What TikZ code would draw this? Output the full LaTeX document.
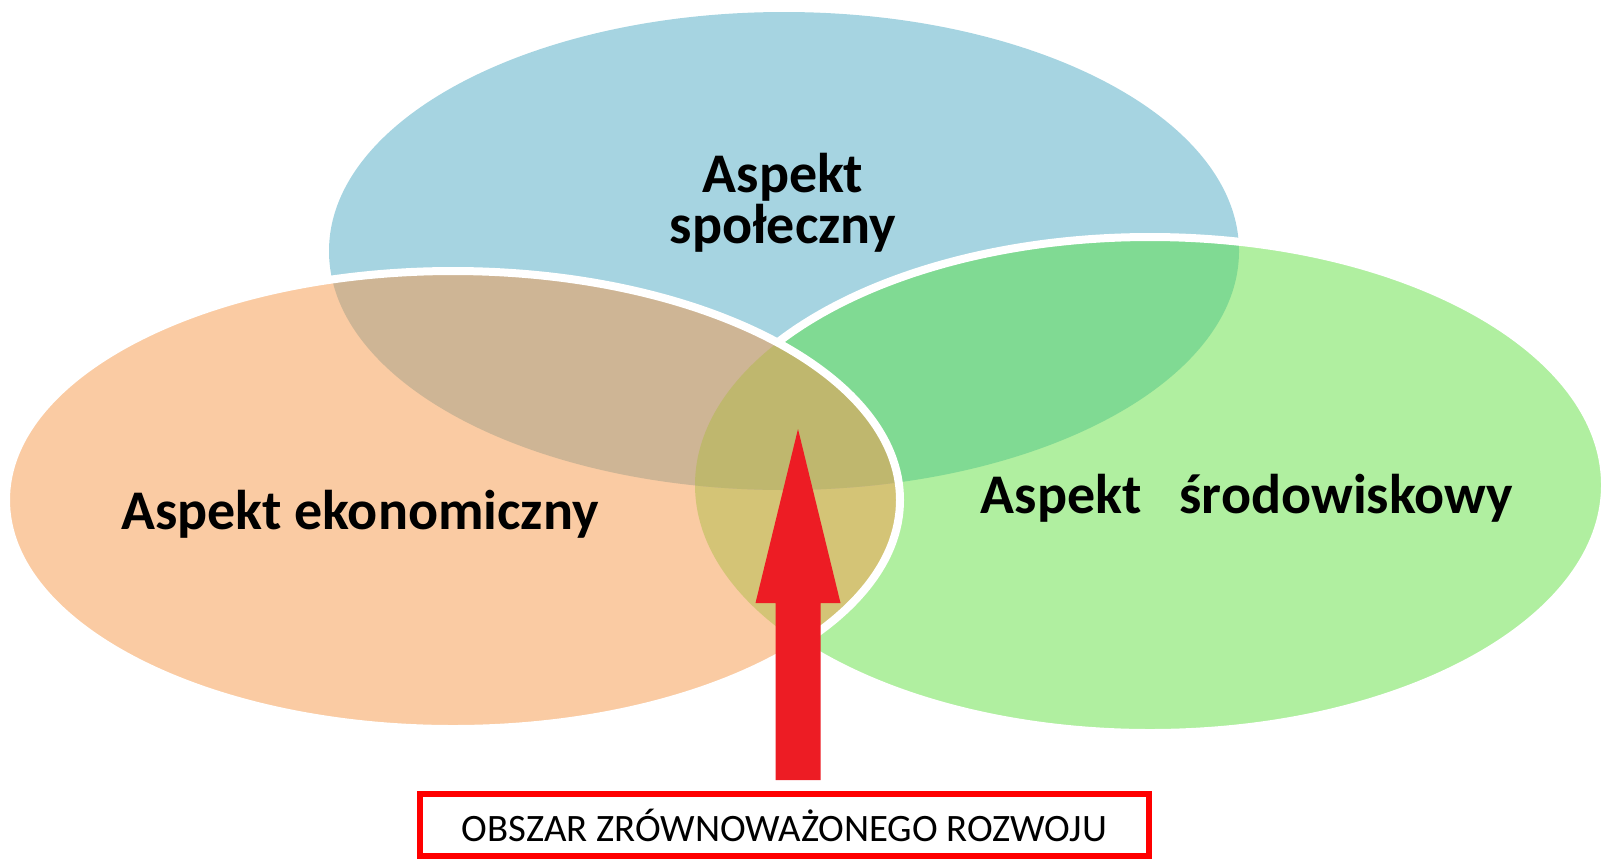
\documentclass[tikz,border=0pt]{standalone}
\usepackage{fontspec}
\setmainfont{Carlito}
\usetikzlibrary{positioning}
\definecolor{socblue}{HTML}{A6D4E1}
\definecolor{ekoorange}{HTML}{FACBA3}
\definecolor{envgreen}{HTML}{B0EFA0}
\definecolor{soceko}{HTML}{CEB595}
\definecolor{socenv}{HTML}{80DA93}
\definecolor{ekoenv}{HTML}{D4C476}
\definecolor{allthree}{HTML}{BFB76E}
\definecolor{arrowred}{HTML}{ED1C24}
\definecolor{boxred}{HTML}{FF0000}
% the three aspects
\newcommand{\socpath}{(784,251) ellipse [x radius=455, y radius=239]}
\newcommand{\ekopath}{(453,500) ellipse [x radius=447, y radius=229]}
\newcommand{\envpath}{(1150,485) ellipse [x radius=455, y radius=248]}

\begin{document}
\begin{tikzpicture}[
        x=0.5pt, y=-0.5pt,
        % styles
        aspect/.style={font=\bfseries\fontsize{28}{25.5}\selectfont, align=center, text=black},
        rim/.style={draw=white, line width=4pt},
        areabox/.style={rectangle, draw=boxred, line width=3pt, minimum width=364.5pt, minimum height=31pt, inner sep=0pt, font=\fontsize{19.4}{22}\selectfont}
    ]
    \useasboundingbox (0,0) rectangle (1604,863);

    % social + environmental
    \fill[socblue] \socpath;
    \fill[envgreen] \envpath;
    \begin{scope}
        \clip \socpath;
        \fill[socenv] \envpath;
    \end{scope}
    \draw[rim] \envpath;

    % economic and its overlaps
    \fill[ekoorange] \ekopath;
    \begin{scope}
        \clip \ekopath;
        \fill[ekoenv] \envpath;
        \fill[soceko] \socpath;
        \clip \socpath;
        \fill[allthree] \envpath;
    \end{scope}
    \draw[rim] \ekopath;

    % labels
    \node (soc) [aspect] at (783,203) {Aspekt\\społeczny};
    \node (eko) [aspect] at (360,514) {Aspekt ekonomiczny};
    \node (env) [aspect] at (1247,498) {Aspekt\hspace{0.68em}środowiskowy};

    % sustainable development area
    \node (area) [areabox] at (784.5,825) {OBSZAR ZRÓWNOWAŻONEGO ROZWOJU};
    \coordinate (tail) at (798,780);
    \coordinate (peak) at (798,429);
    \fill [arrowred] (tail) ++(-22.5,0) -- ++(0,-177) -- ++(-20,0) -- (peak)
        -- ++(42.5,174) -- ++(-20,0) -- ++(0,177) -- cycle;

\end{tikzpicture}
\end{document}
